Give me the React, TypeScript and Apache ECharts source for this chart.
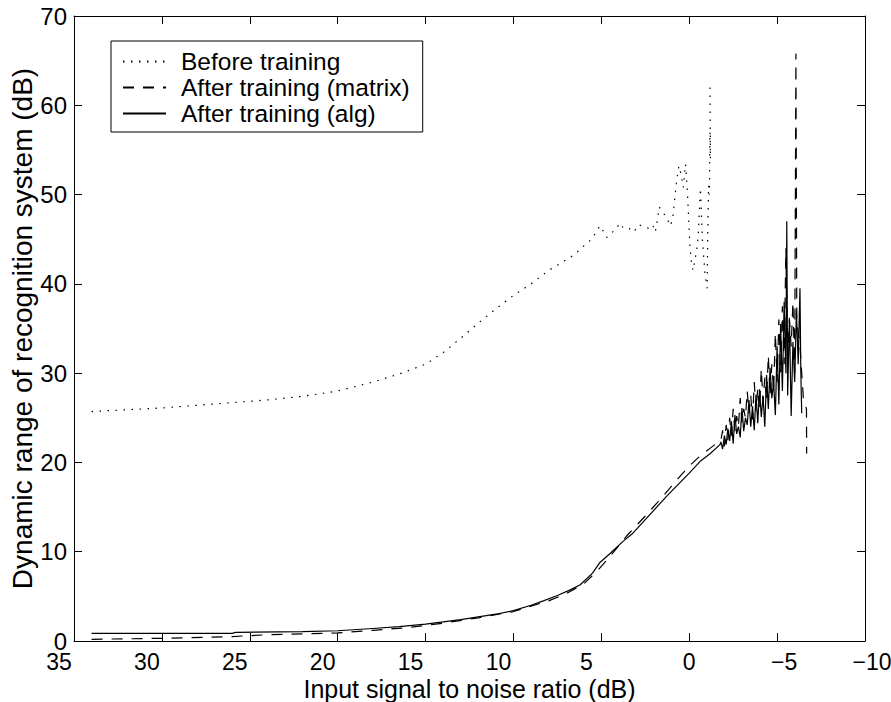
import React, { useEffect, useRef } from "react";
import * as echarts from "echarts";

// ---- Data ----
const beforeX = [34, 32, 30, 28, 26, 24, 22, 20, 18, 16.5, 15, 14, 13, 12, 11, 10, 9, 8, 7, 6.5, 6.2, 5.55, 5.08, 4.89, 4.7, 4.19, 3.94, 3.73, 3.41, 3.15, 2.9, 2.62, 2.3, 2.08, 1.93, 1.84, 1.7, 1.25, 1.1, 0.95, 0.72, 0.59, 0.47, 0.34, 0.21, 0.11, 0.04, -0.04, -0.13, -0.22, -0.32, -0.42, -0.51, -0.64, -0.75, -0.9, -1.02, -1.05, -1.1, -1.15, -1.18, -1.21, -1.18];
const beforeY = [25.7, 25.9, 26.1, 26.4, 26.7, 27.0, 27.4, 28.0, 29.0, 29.9, 31.0, 32.3, 33.9, 35.6, 37.2, 38.7, 40.0, 41.5, 42.7, 43.3, 43.9, 45.0, 46.5, 45.9, 45.2, 46.1, 46.8, 46.2, 46.2, 45.8, 46.6, 46.5, 46.2, 46.6, 45.8, 46.8, 48.6, 47.3, 46.5, 47.1, 51.5, 53.2, 52.3, 50.8, 53.4, 50.5, 47.7, 44.2, 42.3, 41.5, 42.7, 43.6, 45.3, 50.7, 45.0, 41.0, 39.5, 45.0, 51.0, 50.0, 57.0, 54.0, 62.6];

const matrixX = [34, 30, 26, 24, 20, 18, 16, 14, 12, 10, 9, 8, 7, 6, 5.2, 4.5, 3.5, 2.5, 1.5, 0.5, 0, -0.6, -1.2, -1.8, -1.9, -2.0, -2.1, -2.2, -2.3, -2.4, -2.5, -2.6, -2.7, -2.8, -2.9, -3.0, -3.1, -3.2, -3.3, -3.4, -3.5, -3.6, -3.7, -3.8, -3.9, -4.0, -4.1, -4.2, -4.3, -4.4, -4.5, -4.6, -4.7, -4.8, -4.9, -5.0, -5.1, -5.2, -5.3, -5.4, -5.5, -5.6, -5.7, -5.8, -5.9, -6.0, -6.07, -6.12, -6.3, -6.5, -6.67, -6.68];
const matrixY = [0.19, 0.3, 0.5, 0.7, 0.9, 1.2, 1.5, 2.0, 2.6, 3.3, 3.9, 4.5, 5.3, 6.4, 7.9, 9.5, 11.9, 14.0, 16.2, 18.5, 19.6, 20.7, 21.6, 22.5, 23.6, 21.8, 24.2, 22.5, 25.0, 23.0, 26.0, 23.5, 25.2, 24.0, 27.2, 24.5, 26.0, 25.0, 28.0, 25.5, 27.5, 24.8, 29.0, 25.8, 28.3, 26.0, 30.5, 26.8, 29.5, 27.0, 32.0, 27.5, 31.0, 28.0, 34.5, 29.0, 36.0, 30.0, 37.5, 31.0, 44.0, 32.0, 36.0, 33.0, 38.0, 30.0, 65.8, 36.0, 33.0, 27.0, 26.0, 21.0];

const algX = [34, 30, 26, 25.8, 22, 20, 18, 16.5, 15, 13, 11, 10, 9, 8.3, 7.5, 6.8, 6.2, 5.5, 5.08, 4.5, 3.8, 3.19, 2.5, 1.8, 1.29, 0.5, 0, -0.61, -1.2, -1.75, -1.8, -1.9, -2.0, -2.1, -2.2, -2.3, -2.4, -2.5, -2.6, -2.7, -2.8, -2.9, -3.0, -3.1, -3.2, -3.3, -3.4, -3.5, -3.6, -3.7, -3.8, -3.9, -4.0, -4.1, -4.2, -4.3, -4.4, -4.5, -4.6, -4.7, -4.8, -4.9, -5.0, -5.1, -5.2, -5.3, -5.4, -5.5, -5.55, -5.6, -5.7, -5.8, -5.9, -6.0, -6.1, -6.2, -6.3, -6.35, -6.4];
const algY = [0.86, 0.86, 0.86, 0.97, 1.04, 1.15, 1.4, 1.6, 1.9, 2.4, 3.0, 3.4, 4.0, 4.5, 5.1, 5.7, 6.3, 7.6, 8.8, 9.8, 11.1, 12.1, 13.6, 15.1, 16.2, 17.8, 18.8, 20.1, 21.0, 22.0, 22.3, 21.5, 23.0, 22.0, 23.8, 22.4, 24.6, 22.1, 25.3, 23.2, 24.0, 22.8, 26.1, 23.5, 25.0, 24.2, 27.0, 24.0, 26.3, 23.6, 27.6, 24.4, 28.2, 25.1, 27.4, 24.0, 29.8, 26.0, 30.6, 27.2, 29.0, 25.3, 33.0, 26.5, 35.5, 28.0, 38.0, 30.0, 47.0, 27.5, 36.2, 25.2, 33.5, 29.0, 37.0, 31.0, 39.5, 30.0, 25.5];

const seriesNames = ["Before training", "After training (matrix)", "After training (alg)"];
const xTitle = "Input signal to noise ratio (dB)";
const yTitle = "Dynamic range of recognition system (dB)";

const FONT = "'Liberation Sans', Arial, Helvetica, sans-serif";

const zip = (xs: number[], ys: number[]) => xs.map((x, i) => [x, ys[i]]);

export default function App() {
  const ref = useRef<HTMLDivElement>(null);
  useEffect(() => {
    if (!ref.current) return;
    const chart = echarts.init(ref.current, undefined, { renderer: "svg" });
    const lab = { fontSize: 23, fontFamily: FONT, color: "#000" };
    const axisCommon = {
      axisLine: { show: true, onZero: false, lineStyle: { color: "#000", width: 1 } },
      axisTick: { show: true, inside: true, length: 8, lineStyle: { color: "#000", width: 1 } },
      splitLine: { show: false },
    };
    chart.setOption({
      animation: false,
      backgroundColor: "#fff",
      grid: { left: 74, right: 26, top: 16, bottom: 61, containLabel: false, outerBoundsMode: "none" },
      legend: {
        data: seriesNames,
        orient: "vertical",
        left: 111,
        top: 41,
        padding: [8, 13, 6, 11],
        itemGap: 1,
        itemWidth: 43,
        itemHeight: 14,
        borderColor: "#000",
        borderWidth: 1,
        backgroundColor: "#fff",
        itemStyle: { opacity: 0, borderWidth: 0 },
        textStyle: { fontSize: 24.5, fontFamily: FONT, color: "#000", padding: [0, 0, 0, 10] },
      },
      xAxis: [
        {
          type: "value",
          position: "bottom",
          inverse: true,
          min: -10,
          max: 35,
          interval: 5,
          ...axisCommon,
          name: xTitle,
          nameLocation: "middle",
          nameGap: 35,
          nameMoveOverlap: false,
          nameTextStyle: { fontSize: 25, fontFamily: FONT, color: "#000" },
          axisLabel: {
            margin: 9,
            ...lab,
            formatter: (v: number) => {
              if (v > 0) return `{p|${v}}`;
              if (v === 0) return `{z|0}`;
              return `{n|\u2212${Math.abs(v)}}`;
            },
            rich: {
              p: { ...lab, padding: [0, 30, 0, 0] },
              z: { ...lab },
              n: { ...lab, padding: [0, 0, 0, 14] },
            },
          },
        },
        {
          type: "value",
          position: "top",
          inverse: true,
          min: -10,
          max: 35,
          interval: 5,
          ...axisCommon,
          axisLabel: { show: false },
        },
      ],
      yAxis: [
        {
          type: "value",
          position: "left",
          min: 0,
          max: 70,
          interval: 10,
          ...axisCommon,
          name: yTitle,
          nameLocation: "middle",
          nameGap: 38,
          nameMoveOverlap: false,
          nameTextStyle: { fontSize: 28, fontFamily: FONT, color: "#000" },
          axisLabel: { margin: 7, ...lab, fontSize: 24 },
        },
        {
          type: "value",
          position: "right",
          min: 0,
          max: 70,
          interval: 10,
          ...axisCommon,
          axisLabel: { show: false },
        },
      ],
      series: [
        {
          name: seriesNames[0],
          type: "line",
          data: zip(beforeX, beforeY),
          symbol: "none",
          showSymbol: false,
          lineStyle: { color: "#000", width: 1.2, type: [1.5, 6.5] },
          itemStyle: { color: "#000" },
        },
        {
          name: seriesNames[1],
          type: "line",
          data: zip(matrixX, matrixY),
          symbol: "none",
          showSymbol: false,
          lineStyle: { color: "#000", width: 1.2, type: [11, 9] },
          itemStyle: { color: "#000" },
        },
        {
          name: seriesNames[2],
          type: "line",
          data: zip(algX, algY),
          symbol: "none",
          showSymbol: false,
          lineStyle: { color: "#000", width: 1.2, type: "solid" },
          itemStyle: { color: "#000" },
        },
      ],
    });
    return () => chart.dispose();
  }, []);
  return <div ref={ref} style={{ width: 891, height: 702, position: "absolute", left: 0, top: 0 }} />;
}
